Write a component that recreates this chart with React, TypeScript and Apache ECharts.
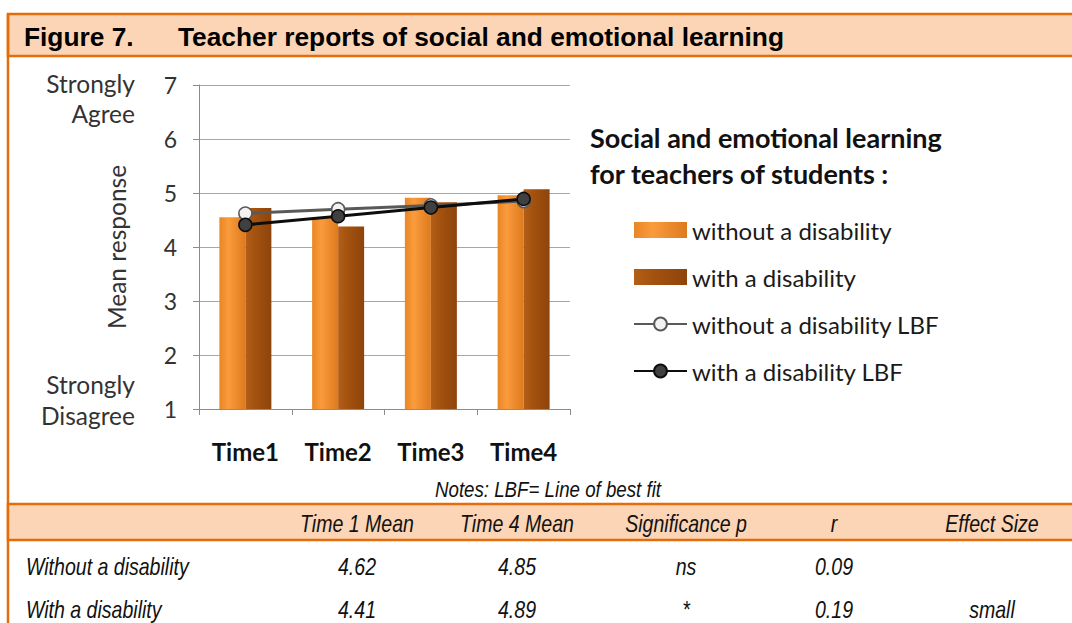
import React, { useEffect, useRef } from "react";
import * as echarts from "echarts";

const categories = ["Time1", "Time2", "Time3", "Time4"];
const withoutMeans = [4.55, 4.54, 4.91, 4.96];
const withMeans = [4.72, 4.38, 4.83, 5.07];
const withoutLBF = [4.62, 4.7, 4.77, 4.85];
const withLBF = [4.41, 4.57, 4.73, 4.89];
const yTicks = [1, 7, 1];

const seriesNames = [
  "without a disability",
  "with a disability",
  "without a disability LBF",
  "with a disability LBF",
];

const tableHeaders = ["Time 1 Mean", "Time 4 Mean", "Significance p", "r", "Effect Size"];
const rowLabels = ["Without a disability", "With a disability"];
const time1Means = ["4.62", "4.41"];
const time4Means = ["4.85", "4.89"];
const significance = ["ns", "*"];
const rValues = ["0.09", "0.19"];
const effectSizes = ["", "small"];

const ORANGE = "#E46C0A";
const PEACH = "#FBD5B5";
const SANS = "Lato, 'Noto Sans', sans-serif";

export default function App() {
  const ref = useRef<HTMLDivElement>(null);
  useEffect(() => {
    if (!ref.current) return;
    const chart = echarts.init(ref.current, null, { renderer: "svg" });

    const colX = [357, 517, 686, 834, 992];
    const tableFont = "'Liberation Sans', Arial, sans-serif";
    const tFont = `italic 23px ${tableFont}`;
    const NARROW = 0.85;
    const tableTexts: any[] = [];
    tableHeaders.forEach((h, i) => {
      tableTexts.push({
        type: "text",
        x: colX[i],
        y: 524,
        scaleX: NARROW,
        style: { text: h, fill: "#111", font: tFont, align: "center", verticalAlign: "middle" },
      });
    });
    const rows = [time1Means, time4Means, significance, rValues, effectSizes];
    rowLabels.forEach((lab, r) => {
      const y = 567 + r * 43;
      tableTexts.push({
        type: "text",
        x: 26,
        y,
        scaleX: NARROW,
        style: { text: lab, fill: "#111", font: tFont, align: "left", verticalAlign: "middle" },
      });
      rows.forEach((col, c) => {
        tableTexts.push({
          type: "text",
          x: colX[c],
          y,
          scaleX: NARROW,
          style: { text: col[r], fill: "#111", font: tFont, align: "center", verticalAlign: "middle" },
        });
      });
    });

    const barGrad = (c0: string, c1: string, c2: string) =>
      new echarts.graphic.LinearGradient(0, 0, 1, 0, [
        { offset: 0, color: c0 },
        { offset: 0.35, color: c1 },
        { offset: 1, color: c2 },
      ]);

    const option: any = {
      animation: false,
      backgroundColor: "#ffffff",
      grid: { left: 199, right: 502, top: 85, bottom: 214, containLabel: false },
      xAxis: {
        type: "category",
        data: categories,
        boundaryGap: true,
        axisLine: { lineStyle: { color: "#8C8C8C", width: 1 } },
        axisTick: { show: true, length: 6, lineStyle: { color: "#8C8C8C" } },
        axisLabel: {
          margin: 30,
          color: "#111",
          fontFamily: SANS,
          fontWeight: "bold",
          fontSize: 24,
        },
      },
      yAxis: {
        type: "value",
        min: yTicks[0],
        max: yTicks[1],
        interval: yTicks[2],
        name: "Mean response",
        nameLocation: "middle",
        nameRotate: 90,
        nameGap: 70,
        nameTextStyle: { color: "#333", fontFamily: SANS, fontSize: 24.5 },
        axisLine: { show: true, lineStyle: { color: "#8C8C8C" } },
        axisTick: { show: true, length: 6, lineStyle: { color: "#8C8C8C" } },
        axisLabel: { margin: 22, color: "#333", fontFamily: SANS, fontSize: 23 },
        splitLine: { show: true, lineStyle: { color: "#A6A6A6", width: 1 } },
      },
      legend: {
        orient: "vertical",
        left: 628,
        top: 211,
        itemWidth: 53,
        itemHeight: 16,
        itemGap: 19,
        textStyle: { color: "#1a1a1a", fontFamily: SANS, fontSize: 24, lineHeight: 28 },
        data: [
          { name: seriesNames[0], icon: "rect" },
          { name: seriesNames[1], icon: "rect" },
          { name: seriesNames[2] },
          { name: seriesNames[3] },
        ],
      },
      series: [
        {
          name: seriesNames[0],
          type: "bar",
          data: withoutMeans,
          barWidth: 26,
          barGap: "0%",
          itemStyle: { color: barGrad("#E98626", "#FA9B3C", "#DD7A1E") },
        },
        {
          name: seriesNames[1],
          type: "bar",
          data: withMeans,
          barWidth: 26,
          barGap: "0%",
          itemStyle: { color: barGrad("#B45F18", "#A4520F", "#8E440B") },
        },
        {
          name: seriesNames[2],
          type: "line",
          data: withoutLBF,
          symbol: "circle",
          symbolSize: 13,
          z: 3,
          lineStyle: { color: "#595959", width: 3 },
          itemStyle: { color: "#F2F2F2", borderColor: "#595959", borderWidth: 1.5 },
        },
        {
          name: seriesNames[3],
          type: "line",
          data: withLBF,
          symbol: "circle",
          symbolSize: 13,
          z: 4,
          lineStyle: { color: "#0d0d0d", width: 3 },
          itemStyle: { color: "#404040", borderColor: "#0d0d0d", borderWidth: 1.5 },
        },
      ],
      graphic: [
        // title bar
        { type: "rect", shape: { x: 8, y: 14, width: 1070, height: 42 }, style: { fill: PEACH, stroke: ORANGE, lineWidth: 2.5 }, silent: true },
        { type: "line", shape: { x1: 8, y1: 14, x2: 8, y2: 630 }, style: { stroke: ORANGE, lineWidth: 2.5 }, silent: true },
        {
          type: "text",
          x: 24,
          y: 37,
          style: { text: "Figure 7.", fill: "#000", font: "bold 26.3px 'Liberation Sans', Arial, sans-serif", verticalAlign: "middle" },
        },
        {
          type: "text",
          x: 178,
          y: 37,
          style: {
            text: "Teacher reports of social and emotional learning",
            fill: "#000",
            font: "bold 26.3px 'Liberation Sans', Arial, sans-serif",
            verticalAlign: "middle",
          },
        },
        // axis end labels
        {
          type: "text",
          x: 135,
          y: 98,
          style: { text: "Strongly\nAgree", fill: "#333", font: `24.5px ${SANS}`, align: "right", verticalAlign: "middle", lineHeight: 30 },
        },
        {
          type: "text",
          x: 135,
          y: 400,
          style: { text: "Strongly\nDisagree", fill: "#333", font: `24.5px ${SANS}`, align: "right", verticalAlign: "middle", lineHeight: 31 },
        },
        // legend title
        {
          type: "text",
          x: 590,
          y: 155,
          style: {
            text: "Social and emotional learning\nfor teachers of students :",
            fill: "#111",
            font: `bold 27px ${SANS}`,
            verticalAlign: "middle",
            lineHeight: 36,
          },
        },
        // notes
        {
          type: "text",
          x: 548,
          y: 489,
          scaleX: NARROW,
          style: { text: "Notes: LBF= Line of best fit", fill: "#111", font: `italic 22px ${tableFont}`, align: "center", verticalAlign: "middle" },
        },
        // table header band
        { type: "rect", shape: { x: 8, y: 504, width: 1070, height: 36 }, style: { fill: PEACH, stroke: ORANGE, lineWidth: 2.5 }, silent: true },
        ...tableTexts,
      ],
    };
    chart.setOption(option);
    return () => chart.dispose();
  }, []);
  return <div ref={ref} style={{ position: "fixed", left: 0, top: 0, width: 1072, height: 623 }} />;
}
